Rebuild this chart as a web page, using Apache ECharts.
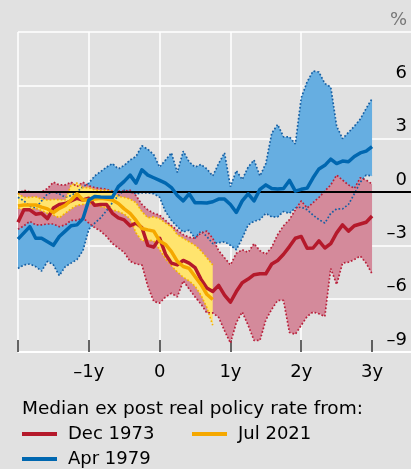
<!DOCTYPE html>
<html>
<head>
<meta charset="utf-8">
<script src="https://cdn.jsdelivr.net/npm/echarts@6/dist/echarts.min.js"></script>
<style>
  html, body { margin: 0; padding: 0; background: #e1e1e1; }
  #chart { width: 411px; height: 469px; }
</style>
</head>
<body>
<div id="chart"></div>
<script>
// months relative to the start date (12 = one year)
const months = [-24, -23, -22, -21, -20, -19, -18, -17, -16, -15, -14, -13,
  -12, -11, -10, -9, -8, -7, -6, -5, -4, -3, -2, -1,
  0, 1, 2, 3, 4, 5, 6, 7, 8, 9, 10, 11,
  12, 13, 14, 15, 16, 17, 18, 19, 20, 21, 22, 23,
  24, 25, 26, 27, 28, 29, 30, 31, 32, 33, 34, 35, 36];
const xTicks = [-24, -12, 0, 12, 24, 36];

// Dec 1973
const redMid = [-1.7, -1.0, -1.0, -1.25, -1.2, -1.5, -0.9, -0.7, -0.65, -0.5, -0.35, -0.45,
  -0.35, -0.75, -0.7, -0.7, -1.2, -1.45, -1.57, -1.9, -1.75, -2.0, -3.0, -3.1,
  -2.6, -3.5, -4.0, -4.1, -3.85, -4.0, -4.25, -4.9, -5.4, -5.6, -5.25, -5.8,
  -6.2, -5.6, -5.1, -4.9, -4.65, -4.6, -4.6, -4.05, -3.85, -3.5, -3.07, -2.6,
  -2.5, -3.16, -3.15, -2.75, -3.15, -2.9, -2.3, -1.85, -2.2, -1.9, -1.8, -1.7, -1.35];
const redUp = [-0.1, 0.1, 0.0, 0.0, 0.0, 0.2, 0.55, 0.4, 0.4, 0.55, 0.3, 0.55,
  0.35, 0.25, 0.2, 0.15, 0.05, 0.05, 0.05, 0.1, -0.2, -0.7, -1.0, -1.2,
  -1.3, -1.6, -1.9, -2.15, -2.4, -2.55, -2.6, -2.3, -2.2, -2.6, -3.3, -3.7,
  -4.1, -3.45, -3.25, -3.4, -2.9, -3.3, -3.5, -3.1, -2.4, -1.9, -1.55, -1.0,
  -0.5, -0.9, -0.6, -0.3, 0.05, 0.4, 0.95, 0.67, 0.4, 0.2, 0.8, 0.67, 0.45];
const redLo = [-2.1, -1.9, -1.65, -1.85, -1.85, -1.8, -1.8, -1.95, -1.85, -1.6, -1.6, -1.45,
  -1.75, -2.0, -2.2, -2.5, -2.9, -3.15, -3.4, -3.9, -4.05, -4.1, -5.3, -6.15,
  -6.25, -5.9, -5.7, -5.9, -5.0, -5.45, -5.9, -6.3, -6.8, -6.8, -7.05, -7.8,
  -8.5, -7.35, -6.75, -7.5, -8.35, -8.35, -7.2, -6.6, -6.1, -6.1, -7.9, -8.0,
  -7.5, -7.0, -6.75, -6.85, -7.0, -4.3, -5.2, -4.0, -3.95, -3.8, -3.6, -4.0, -4.6];

// Apr 1979
const blueMid = [-2.65, -2.3, -1.95, -2.6, -2.6, -2.8, -3.0, -2.5, -2.2, -1.9, -1.85, -1.5,
  -0.45, -0.25, -0.28, -0.3, -0.3, 0.3, 0.6, 0.95, 0.5, 1.25, 0.95, 0.8,
  0.65, 0.5, 0.25, -0.2, -0.5, -0.1, -0.6, -0.6, -0.62, -0.55, -0.4, -0.4,
  -0.7, -1.15, -0.5, -0.1, -0.5, 0.15, 0.4, 0.2, 0.17, 0.2, 0.65, 0.05,
  0.15, 0.22, 0.8, 1.3, 1.5, 1.85, 1.6, 1.74, 1.7, 2.0, 2.2, 2.3, 2.55];
const blueUp = [-0.3, -0.5, -0.8, -0.9, -0.5, -0.1, 0.0, -0.1, -0.3, -0.2, 0.0, 0.3,
  0.5, 0.9, 1.15, 1.4, 1.6, 1.3, 1.5, 1.8, 2.0, 2.6, 2.4, 2.1,
  1.4, 1.8, 2.2, 1.1, 2.3, 1.7, 1.4, 1.55, 1.3, 0.9, 1.6, 2.2,
  0.3, 1.2, 0.7, 1.4, 1.8, 0.9, 1.6, 3.3, 3.8, 3.1, 3.1, 2.7,
  5.3, 6.2, 6.8, 6.75, 6.1, 5.9, 3.7, 3.0, 3.35, 3.7, 4.1, 4.7, 5.25];
const blueLo = [-4.3, -4.1, -4.05, -4.2, -4.45, -3.9, -4.1, -4.7, -4.2, -4.0, -3.8, -3.3,
  -2.1, -1.75, -1.45, -1.05, -0.6, -0.2, 0.1, 0.0, -0.1, -0.05, -0.05, -0.1,
  -0.3, -1.1, -1.6, -1.95, -2.25, -2.15, -2.6, -2.2, -2.5, -2.9, -2.85, -2.8,
  -3.0, -3.25, -2.6, -1.85, -1.65, -1.55, -1.2, -1.4, -1.4, -1.1, -1.2, -0.9,
  -0.85, -1.0, -1.3, -1.55, -1.75, -1.2, -0.95, -0.95, -0.7, -0.1, 0.55, 0.95, 0.9];

// Jul 2021 (first 34 months only)
const yelMid = [-0.78, -0.73, -0.73, -0.73, -0.85, -0.95, -1.15, -0.92, -0.75, -0.45, -0.1, -0.45,
  -0.45, -0.4, -0.35, -0.4, -0.45, -0.65, -0.95, -1.2, -1.6, -2.05, -2.13, -2.2,
  -2.75, -2.95, -3.35, -3.9, -4.19, -4.3, -4.75, -5.2, -5.75, -6.05];
const yelUp = [-0.08, -0.3, -0.3, -0.27, -0.4, -0.45, -0.42, -0.43, -0.45, 0.4, 0.5, 0.25,
  0.25, 0.12, 0.1, 0.1, 0.03, -0.25, -0.3, -0.4, -0.6, -1.1, -1.45, -1.4,
  -1.5, -1.75, -1.95, -2.4, -2.6, -2.8, -3.0, -3.3, -3.7, -4.1];
const yelLo = [-0.9, -1.0, -0.97, -0.92, -1.05, -1.2, -1.3, -1.45, -1.2, -0.95, -0.75, -0.7,
  -0.63, -0.75, -0.82, -0.9, -1.0, -1.1, -1.25, -1.5, -2.3, -2.75, -2.7, -2.75,
  -3.25, -3.75, -4.15, -4.5, -4.8, -5.0, -5.3, -5.8, -6.5, -7.5];

const RED = '#b5192b', RED_FILL = '#d48a9b', RED_DOT = '#b8203a';
const BLUE = '#0067b0', BLUE_FILL = '#66aee1', BLUE_DOT = '#165fa3';
const YEL = '#f5a800', YEL_FILL = '#ffe46e', YEL_DOT = '#f5b000';
const FONT = 'DejaVu Sans';

function pairs(vals) {
  return vals.map((v, i) => [months[i], v]);
}

function band(up, lo, color, z) {
  return {
    type: 'custom', z: z, silent: true,
    data: [[months[0], up[0]]],
    renderItem: function (params, api) {
      const pts = [];
      for (let i = 0; i < up.length; i++) pts.push(api.coord([months[i], up[i]]));
      for (let i = lo.length - 1; i >= 0; i--) pts.push(api.coord([months[i], lo[i]]));
      return { type: 'polygon', shape: { points: pts }, style: { fill: color } };
    }
  };
}

function dotted(vals, color, z) {
  return {
    type: 'line', z: z, silent: true, symbol: 'none',
    data: pairs(vals),
    lineStyle: { color: color, width: 1.7, type: [1.7, 2] }
  };
}

function median(name, vals, color, z) {
  return {
    name: name, type: 'line', z: z, symbol: 'none',
    data: pairs(vals),
    itemStyle: { color: color },
    lineStyle: { color: color, width: 3.5, join: 'round' }
  };
}

const zero = dotted(redUp, RED_DOT, 4);
zero.markLine = {
  silent: true, symbol: 'none', label: { show: false },
  lineStyle: { color: '#000', width: 2, type: 'solid' },
  data: [{ yAxis: 0 }]
};

const chart = echarts.init(document.getElementById('chart'));
const legendBase = {
  icon: 'rect', itemWidth: 35, itemHeight: 4,
  textStyle: { fontFamily: FONT, fontSize: 18, color: '#000', padding: [0, 0, 0, 6] }
};

chart.setOption({
  animation: false,
  backgroundColor: '#e1e1e1',
  textStyle: { fontFamily: FONT },
  title: {
    text: 'Median ex post real policy rate from:',
    left: 17, top: 395,
    textStyle: { fontFamily: FONT, fontSize: 18.5, fontWeight: 'normal', color: '#000' }
  },
  legend: [
    Object.assign({ data: ['Dec 1973'], left: 17, top: 420 }, legendBase),
    Object.assign({ data: ['Jul 2021'], left: 187, top: 420 }, legendBase),
    Object.assign({ data: ['Apr 1979'], left: 17, top: 445 }, legendBase)
  ],
  grid: { left: 18, right: 0, top: 32, bottom: 117 },
  xAxis: {
    type: 'value', min: -24, max: 42.6, interval: 12,
    axisLine: { onZero: false, lineStyle: { color: '#fff', width: 1.5 } },
    axisTick: { customValues: xTicks, inside: true, length: 12, lineStyle: { color: '#333', width: 1.5 } },
    axisLabel: {
      customValues: xTicks, margin: 11, fontSize: 18, color: '#000', fontFamily: FONT,
      formatter: function (v) {
        if (v === -24) return '';
        if (v === 0) return '0';
        return (v < 0 ? '\u2013' : '') + Math.abs(v / 12) + 'y';
      }
    },
    splitLine: { show: true, showMaxLine: false, lineStyle: { color: '#fff', width: 1.5 } }
  },
  yAxis: {
    type: 'value', min: -9, max: 9, interval: 3, position: 'right',
    axisLine: { show: false }, axisTick: { show: false },
    axisLabel: {
      inside: true, margin: 4, fontSize: 18, color: '#000', fontFamily: FONT,
      verticalAlign: 'bottom', padding: [0, 0, 3, 0],
      formatter: function (v) {
        if (v === 9) return '{p|%}';
        return (v < 0 ? '\u2013' : '') + Math.abs(v);
      },
      rich: { p: { color: '#777', fontSize: 18, fontFamily: FONT } }
    },
    splitLine: { lineStyle: { color: '#fff', width: 1.5 } }
  },
  series: [
    band(blueUp, blueLo, BLUE_FILL, 1),
    band(redUp, redLo, RED_FILL, 2),
    band(yelUp, yelLo, YEL_FILL, 3),
    dotted(blueUp, BLUE_DOT, 4),
    dotted(blueLo, BLUE_DOT, 4),
    zero,
    dotted(redLo, RED_DOT, 4),
    dotted(yelUp, YEL_DOT, 4),
    dotted(yelLo, YEL_DOT, 4),
    median('Dec 1973', redMid, RED, 5),
    median('Jul 2021', yelMid, YEL, 6),
    median('Apr 1979', blueMid, BLUE, 7)
  ]
});
</script>
</body>
</html>
